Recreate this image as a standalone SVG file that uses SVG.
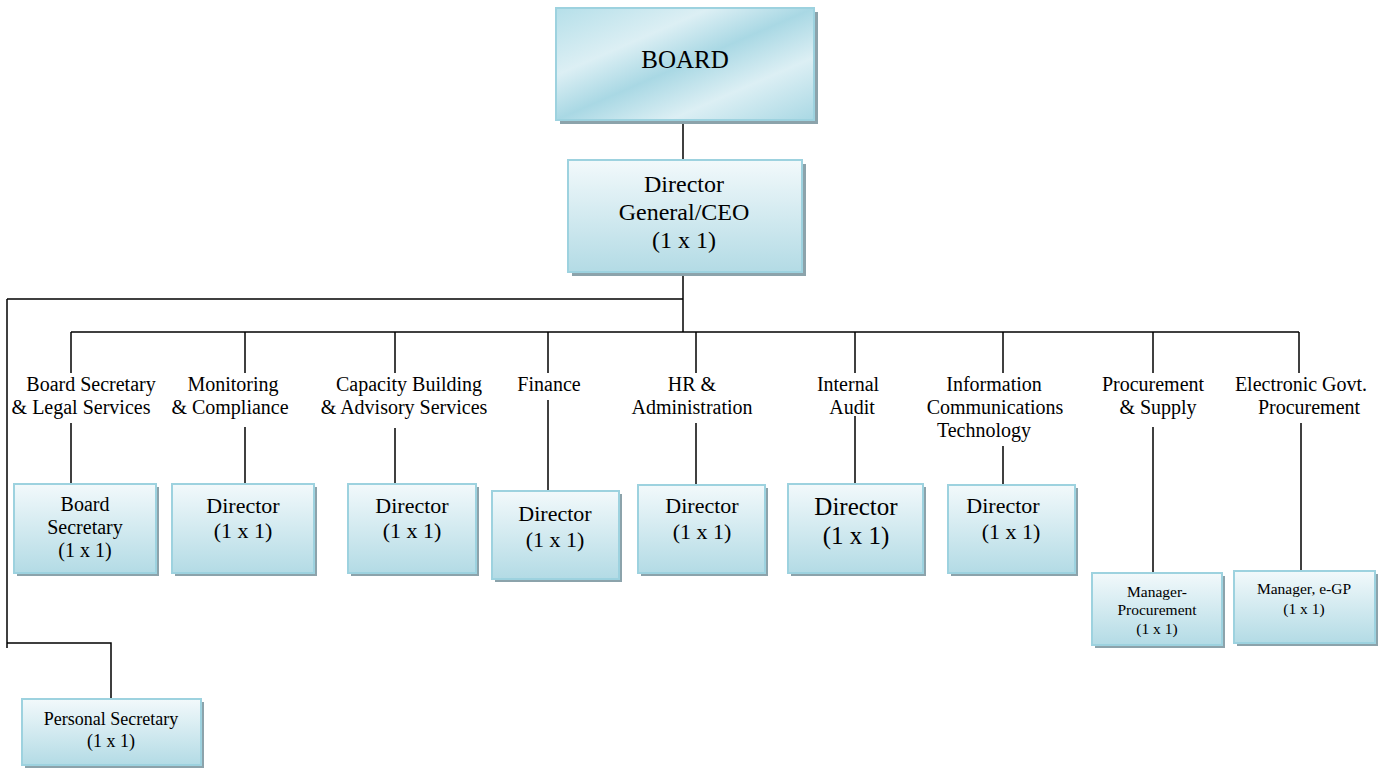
<svg xmlns="http://www.w3.org/2000/svg" width="1387" height="768" viewBox="0 0 1387 768">
<defs>
<linearGradient id="gBoard" x1="0" y1="0" x2="1" y2="1">
<stop offset="0" stop-color="#b5dfe9"/>
<stop offset="0.3" stop-color="#dceff4"/>
<stop offset="0.5" stop-color="#a9d8e4"/>
<stop offset="0.72" stop-color="#dceff4"/>
<stop offset="1" stop-color="#a9d8e4"/>
</linearGradient>
<linearGradient id="gBox" x1="0" y1="0" x2="0" y2="1">
<stop offset="0" stop-color="#f2f9fb"/>
<stop offset="1" stop-color="#b3dbe5"/>
</linearGradient>
<style>
.sh{fill:#8ca3ab}
.bx{fill:url(#gBox);stroke:#9dd2df;stroke-width:2}
.bd{fill:url(#gBoard);stroke:#9dd2df;stroke-width:2}
text{font-family:"Liberation Serif","Times New Roman",serif;fill:#000;text-anchor:middle}
.lb{font-size:20px}
.t22{font-size:22px}
.t15{font-size:15.5px}
.cn line,.cn polyline{stroke:#000;stroke-width:1.5;fill:none}
</style>
</defs>
<rect width="1387" height="768" fill="#fff"/>
<g class="cn" id="connectors">
<line x1="683" y1="120" x2="683" y2="160"/>
<line x1="683" y1="272" x2="683" y2="332"/>
<line x1="7" y1="299" x2="683" y2="299"/>
<line x1="71" y1="332" x2="1299" y2="332"/>
<line x1="7" y1="299" x2="7" y2="648"/>
<polyline points="7,643 111,643 111,699"/>
<line x1="71" y1="332" x2="71" y2="373"/>
<line x1="245" y1="332" x2="245" y2="373"/>
<line x1="395" y1="332" x2="395" y2="373"/>
<line x1="548" y1="332" x2="548" y2="373"/>
<line x1="696" y1="332" x2="696" y2="373"/>
<line x1="855" y1="332" x2="855" y2="373"/>
<line x1="1003" y1="332" x2="1003" y2="373"/>
<line x1="1153" y1="332" x2="1153" y2="373"/>
<line x1="1299" y1="332" x2="1299" y2="373"/>
<line x1="71" y1="423" x2="71" y2="484"/>
<line x1="245" y1="427" x2="245" y2="484"/>
<line x1="395" y1="428" x2="395" y2="484"/>
<line x1="548" y1="400" x2="548" y2="491"/>
<line x1="696" y1="423" x2="696" y2="485"/>
<line x1="855" y1="416" x2="855" y2="484"/>
<line x1="1003" y1="446" x2="1003" y2="485"/>
<line x1="1153" y1="427" x2="1153" y2="573"/>
<line x1="1301" y1="423" x2="1301" y2="571"/>
</g>
<g id="labels">
<text class="lb" x="91" y="391">Board Secretary</text>
<text class="lb" x="81" y="414">&amp; Legal Services</text>
<text class="lb" x="233" y="391">Monitoring</text>
<text class="lb" x="230" y="414">&amp; Compliance</text>
<text class="lb" x="409" y="391">Capacity Building</text>
<text class="lb" x="404" y="414">&amp; Advisory Services</text>
<text class="lb" x="549" y="391">Finance</text>
<text class="lb" x="692" y="391">HR &amp;</text>
<text class="lb" x="692" y="414">Administration</text>
<text class="lb" x="848" y="391">Internal</text>
<text class="lb" x="852" y="414">Audit</text>
<text class="lb" x="994" y="391">Information</text>
<text class="lb" x="995" y="414">Communications</text>
<text class="lb" x="984" y="437">Technology</text>
<text class="lb" x="1153" y="391">Procurement</text>
<text class="lb" x="1158" y="414">&amp; Supply</text>
<text class="lb" x="1301" y="391">Electronic Govt.</text>
<text class="lb" x="1309" y="414">Procurement</text>
</g>
<g id="board">
<rect class="sh" x="560" y="12" width="258" height="112"/>
<rect class="bd" x="556" y="8" width="258" height="112"/>
<text x="685" y="68" style="font-size:25px">BOARD</text>
</g>
<g id="dg">
<rect class="sh" x="572" y="164" width="234" height="112"/>
<rect class="bx" x="568" y="160" width="234" height="112"/>
<text x="684" y="192" style="font-size:24px">Director</text>
<text x="684" y="220" style="font-size:24px">General/CEO</text>
<text x="684" y="248" style="font-size:24px">(1 x 1)</text>
</g>
<g id="board-secretary">
<rect class="sh" x="17" y="487" width="142" height="89"/>
<rect class="bx" x="14" y="484" width="142" height="89"/>
<text class="lb" x="85" y="511">Board</text>
<text class="lb" x="85" y="534">Secretary</text>
<text class="lb" x="85" y="557">(1 x 1)</text>
</g>
<g id="director-monitoring">
<rect class="sh" x="175" y="487" width="142" height="89"/>
<rect class="bx" x="172" y="484" width="142" height="89"/>
<text class="t22" x="243" y="513">Director</text>
<text class="t22" x="243" y="538">(1 x 1)</text>
</g>
<g id="director-capacity">
<rect class="sh" x="351" y="487" width="128" height="89"/>
<rect class="bx" x="348" y="484" width="128" height="89"/>
<text class="t22" x="412" y="513">Director</text>
<text class="t22" x="412" y="538">(1 x 1)</text>
</g>
<g id="director-finance">
<rect class="sh" x="495" y="494" width="127" height="88"/>
<rect class="bx" x="492" y="491" width="127" height="88"/>
<text class="t22" x="555" y="521">Director</text>
<text class="t22" x="555" y="547">(1 x 1)</text>
</g>
<g id="director-hr">
<rect class="sh" x="641" y="488" width="127" height="88"/>
<rect class="bx" x="638" y="485" width="127" height="88"/>
<text class="t22" x="702" y="513">Director</text>
<text class="t22" x="702" y="539">(1 x 1)</text>
</g>
<g id="director-audit">
<rect class="sh" x="791" y="487" width="135" height="89"/>
<rect class="bx" x="788" y="484" width="135" height="89"/>
<text x="856" y="515" style="font-size:25px">Director</text>
<text x="856" y="544" style="font-size:25px">(1 x 1)</text>
</g>
<g id="director-ict">
<rect class="sh" x="951" y="488" width="127" height="88"/>
<rect class="bx" x="948" y="485" width="127" height="88"/>
<text class="t22" x="1003" y="513">Director</text>
<text class="t22" x="1011" y="539">(1 x 1)</text>
</g>
<g id="manager-procurement">
<rect class="sh" x="1095" y="576" width="130" height="72"/>
<rect class="bx" x="1092" y="573" width="130" height="72"/>
<text class="t15" x="1157" y="597">Manager-</text>
<text class="t15" x="1157" y="615">Procurement</text>
<text class="t15" x="1157" y="634">(1 x 1)</text>
</g>
<g id="manager-egp">
<rect class="sh" x="1237" y="574" width="141" height="72"/>
<rect class="bx" x="1234" y="571" width="141" height="72"/>
<text class="t15" x="1304" y="594">Manager, e-GP</text>
<text class="t15" x="1304" y="614">(1 x 1)</text>
</g>
<g id="personal-secretary">
<rect class="sh" x="25" y="702" width="179" height="66"/>
<rect class="bx" x="22" y="699" width="179" height="66"/>
<text x="111" y="725" style="font-size:18px">Personal Secretary</text>
<text x="111" y="747" style="font-size:18px">(1 x 1)</text>
</g>
</svg>
